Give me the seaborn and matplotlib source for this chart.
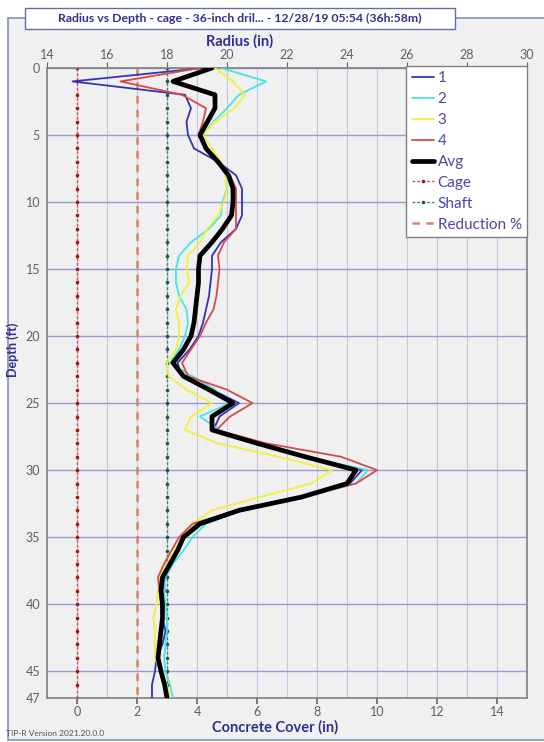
import numpy as np
import pandas as pd
import matplotlib
matplotlib.use("Agg")
import matplotlib.pyplot as plt
from matplotlib.patches import Rectangle
import seaborn as sns

# --- data (radius in inches at each foot of depth) ---
depth = list(range(48))
r1 = [19.2, 14.85, 18.6, 18.8, 18.65, 18.7, 18.9, 19.7, 20.3, 20.5, 20.5, 20.5, 20.3,
      19.8, 19.5, 19.5, 19.45, 19.4, 19.3, 19.2, 19.05, 18.75, 18.35, 18.5, 19.5, 20.4,
      19.75, 19.55, 20.9, 22.7, 24.5, 24.1, 22.5, 20.4, 19.0, 18.5,
      18.3, 18.05, 17.9, 17.92, 17.85, 17.85, 17.95, 17.85, 17.65, 17.6, 17.5, 17.5]
r2 = [19.8, 21.3, 20.4, 20.0, 19.55, 19.2, 19.3, 19.7, 19.95, 20.0, 19.85, 19.8, 19.4,
      18.8, 18.4, 18.3, 18.3, 18.4, 18.65, 18.7, 18.6, 18.4, 18.1, 18.85, 19.6, 20.1,
      19.1, 19.75, 20.9, 22.6, 24.7, 24.3, 22.6, 20.5, 19.3, 18.85,
      18.55, 18.2, 17.95, 17.9, 17.95, 18.0, 18.0, 17.95, 17.9, 17.95, 18.1, 18.2]
r3 = [19.6, 20.2, 20.6, 20.25, 19.6, 19.2, 19.5, 19.8, 19.95, 20.0, 19.9, 19.7, 19.35,
      19.1, 18.7, 18.65, 18.75, 18.45, 18.3, 18.4, 18.4, 18.3, 18.0, 18.05, 18.65, 19.5,
      18.8, 18.6, 19.7, 21.7, 23.5, 22.8, 21.1, 19.5, 18.85, 18.5,
      18.25, 18.0, 17.75, 17.7, 17.65, 17.55, 17.6, 17.6, 17.6, 17.8, 18.0, 18.1]
r4 = [19.1, 16.45, 18.5, 19.3, 19.2, 19.05, 19.3, 19.75, 20.1, 20.3, 20.3, 20.3, 20.3,
      19.9, 19.7, 19.75, 19.7, 19.65, 19.55, 19.3, 19.1, 18.8, 18.5, 18.7, 20.0, 20.85,
      20.1, 19.65, 21.3, 23.8, 25.0, 24.3, 22.5, 20.3, 18.85, 18.4,
      18.15, 17.9, 17.7, 17.75, 17.8, 17.85, 17.8, 17.75, 17.7, 17.8, 17.9, 18.0]
avg = [19.5, 18.2, 19.6, 19.6, 19.35, 19.1, 19.3, 19.7, 20.05, 20.2, 20.2, 20.15, 19.85,
       19.5, 19.1, 19.05, 19.05, 19.0, 18.95, 18.9, 18.8, 18.55, 18.2, 18.55, 19.4, 20.2,
       19.5, 19.5, 21.0, 22.6, 24.3, 24.0, 22.5, 20.4, 19.1, 18.55,
       18.35, 18.1, 17.85, 17.8, 17.85, 17.85, 17.8, 17.75, 17.7, 17.8, 17.92, 18.0]
cage_radius = 15.0
shaft_radius = 18.0
reduction_radius = 17.0

series_names = ["1", "2", "3", "4", "Avg"]
series_colors = ["#3333b8", "#44e6e6", "#f2f03c", "#d84a4a", "#000000"]
series_widths = [1.3, 1.3, 1.3, 1.3, 3.4]

title = "Radius vs Depth - cage - 36-inch dril... - 12/28/19 05:54 (36h:58m)"
label_color = "#2e3192"

sns.set_theme(style="white")
plt.rcParams["font.family"] = ["Lato", "DejaVu Sans"]

fig = plt.figure(figsize=(5.44, 7.42), dpi=100, facecolor="white")
W, H = 544, 742

# outer frame
fig.patches.append(Rectangle((8 / W, 2 / H), 1, 1 - 20 / H, transform=fig.transFigure,
                             facecolor="#f0f0f0", edgecolor="#8090b8", lw=1.2, zorder=-5))

ax = fig.add_axes([47 / W, 1 - 698 / H, (527 - 47) / W, (698 - 68) / H])
ax.set_zorder(1)
ax.set_facecolor("#f0f0f0")

line_kw = dict(sort=False, orient="y", estimator=None, errorbar=None, ax=ax)

# reference lines: cage, shaft, reduction
sns.lineplot(x=[cage_radius] * len(depth), y=depth, color="#d85050",
             lw=1.0, linestyle=(0, (2, 1.5)), marker="o", markersize=2.6,
             markeredgewidth=0, markerfacecolor="#b01010", label="Cage", **line_kw)
sns.lineplot(x=[shaft_radius] * len(depth), y=depth, color="#3a8a6a",
             lw=1.0, linestyle=(0, (2, 1.5)), marker="o", markersize=2.6,
             markeredgewidth=0, markerfacecolor="#1a5a40", label="Shaft", **line_kw)
sns.lineplot(x=[reduction_radius] * 2, y=[0, 47], color="#e08060",
             lw=1.8, linestyle=(0, (3, 2.5)), label="Reduction %", **line_kw)

for name, vals, col, lw in zip(series_names, [r1, r2, r3, r4, avg], series_colors, series_widths):
    sns.lineplot(x=vals, y=depth, color=col, lw=lw, label=name,
                 zorder=5 if name == "Avg" else 4, **line_kw)

ax.set_xlim(14, 30)
ax.set_ylim(47, 0)
ax.xaxis.tick_top()
ax.set_xticks(range(14, 31, 2))
ax.set_xticks(range(14, 31), minor=True)
ax.set_yticks(list(range(0, 50, 5)) + [47])
ax.tick_params(axis="both", which="major", labelsize=9, labelcolor="#606060",
               color="#666666", length=4, width=0.8, pad=1)
ax.tick_params(axis="x", which="minor", length=0)
ax.grid(axis="x", which="both", color="#c6c6e2", lw=0.8)
ax.grid(axis="y", which="major", color="#9a9ad6", lw=1.0)
for s in ax.spines.values():
    s.set_color("#808080")
    s.set_linewidth(1.2)
ax.set_xlabel("")
ax.set_ylabel("")

sec = ax.secondary_xaxis("bottom", functions=(lambda r: r - 15, lambda c: c + 15))
sec.set_xticks(range(0, 15, 2))
sec.tick_params(labelsize=9, labelcolor="#606060", color="#666666", length=4, pad=2)
sec.spines["bottom"].set_visible(False)

# legend
order = series_names + ["Cage", "Shaft", "Reduction %"]
handles, labels = ax.get_legend_handles_labels()
hmap = dict(zip(labels, handles))
leg = ax.legend([hmap[k] for k in order], order, loc="upper right", bbox_to_anchor=(1.0, 1.003),
                fontsize=11, frameon=True, fancybox=False, handlelength=1.5,
                handletextpad=0.2, labelspacing=0.45, borderpad=0.35, borderaxespad=0.0)
leg.get_frame().set_facecolor("white")
leg.get_frame().set_edgecolor("#808080")
leg.get_frame().set_alpha(1)
for t in leg.get_texts():
    t.set_color("#4848a8")

# axis titles and texts
fig.text(240 / W, 1 - 41 / H, "Radius (in)", ha="center", va="center",
         fontsize=10.5, fontweight="bold", color=label_color)
fig.text(275 / W, 1 - 727 / H, "Concrete Cover (in)", ha="center", va="center",
         fontsize=10.5, fontweight="bold", color=label_color)
fig.text(13 / W, 1 - 350 / H, "Depth (ft)", ha="center", va="center", rotation=90,
         fontsize=9, fontweight="bold", color=label_color)
fig.text(6 / W, 1 - 734 / H, "TIP-R Version 2021.20.0.0", ha="left", va="center",
         fontsize=6, color="#555555")

# title box
fig.patches.append(Rectangle((25 / W, 1 - 29 / H), (455 - 25) / W, 21 / H,
                             transform=fig.transFigure, facecolor="white",
                             edgecolor="#6070a0", lw=1.0, zorder=3))
fig.text(240 / W, 1 - 18.5 / H, title, ha="center", va="center", fontsize=8.8,
         fontweight="bold", color=label_color, zorder=4)

fig.savefig("out.png", dpi=100, facecolor=fig.get_facecolor())
